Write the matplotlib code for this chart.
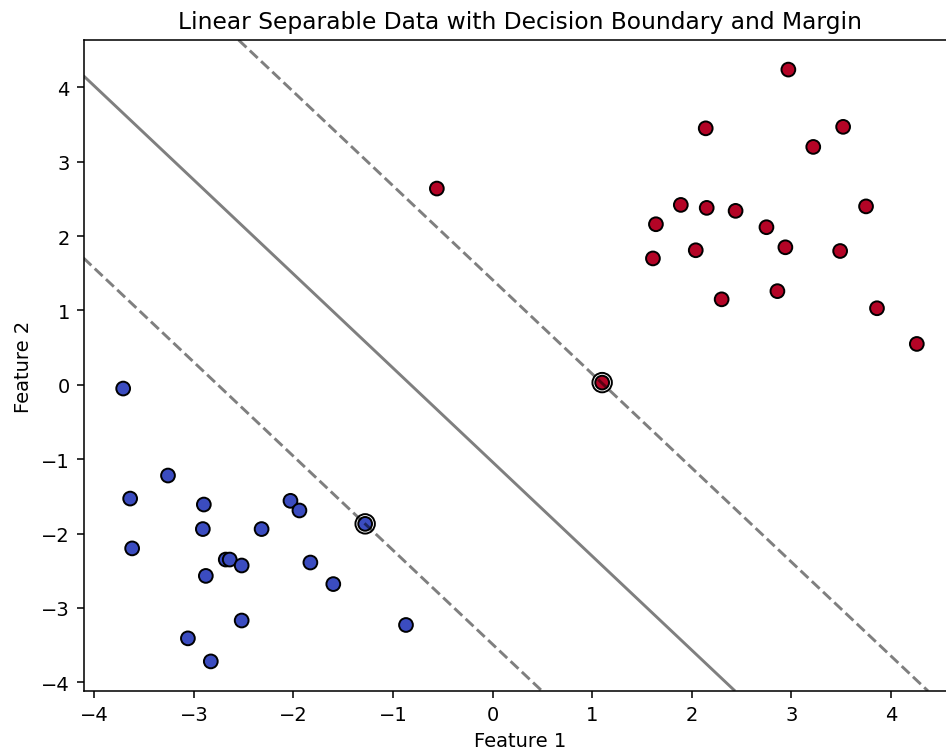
import numpy as np
import matplotlib
matplotlib.use("Agg")
import matplotlib.pyplot as plt

# class 0 (blue) points
x_blue = [-3.71, -3.26, -3.64, -2.90, -2.03, -1.94, -1.28, -2.91, -2.32, -3.62,
          -2.68, -2.64, -2.52, -1.83, -2.88, -1.60, -2.52, -3.06, -2.83, -0.87]
y_blue = [-0.05, -1.22, -1.53, -1.61, -1.56, -1.69, -1.87, -1.94, -1.94, -2.20,
          -2.35, -2.35, -2.43, -2.39, -2.57, -2.68, -3.17, -3.41, -3.72, -3.23]

# class 1 (red) points
x_red = [2.97, 2.14, 3.52, 3.22, 1.89, 2.15, 2.44, 3.75, 1.64, 2.75,
         2.04, 2.94, 3.49, 1.61, 2.30, 2.86, 3.86, 4.26, -0.56, 1.10]
y_red = [4.24, 3.45, 3.47, 3.20, 2.42, 2.38, 2.34, 2.40, 2.16, 2.12,
         1.81, 1.85, 1.80, 1.70, 1.15, 1.26, 1.03, 0.55, 2.64, 0.03]

# support vectors
sv_x = [-1.28, 1.10]
sv_y = [-1.87, 0.03]

# linear decision function w.x + b
w = [0.516, 0.408]
b = 0.424

X = np.array(x_blue + x_red)
Y = np.array(y_blue + y_red)
labels = np.array([0] * len(x_blue) + [1] * len(x_red))

dpi = 140
fig = plt.figure(figsize=(946 / dpi, 752 / dpi), dpi=dpi)
# axes runs past the right edge of the picture, like the reference
ax = fig.add_axes([83.5 / 946, 60 / 752, 873 / 946, 651 / 752])

ax.scatter(X, Y, c=labels, cmap="coolwarm", s=50, edgecolors="k")

xlim = ax.get_xlim()
ylim = ax.get_ylim()

xx = np.linspace(xlim[0], xlim[1], 30)
yy = np.linspace(ylim[0], ylim[1], 30)
XX, YY = np.meshgrid(xx, yy)
Z = w[0] * XX + w[1] * YY + b

ax.contour(XX, YY, Z, colors="k", levels=[-1, 0, 1], alpha=0.5,
           linestyles=["--", "-", "--"])

ax.scatter(sv_x, sv_y, s=100, linewidth=1, facecolors="none", edgecolors="k")

ax.set_xlim(xlim)
ax.set_ylim(ylim)
ax.set_title("Linear Separable Data with Decision Boundary and Margin")
ax.set_xlabel("Feature 1")
ax.set_ylabel("Feature 2")

plt.savefig("out.png", dpi=dpi)
